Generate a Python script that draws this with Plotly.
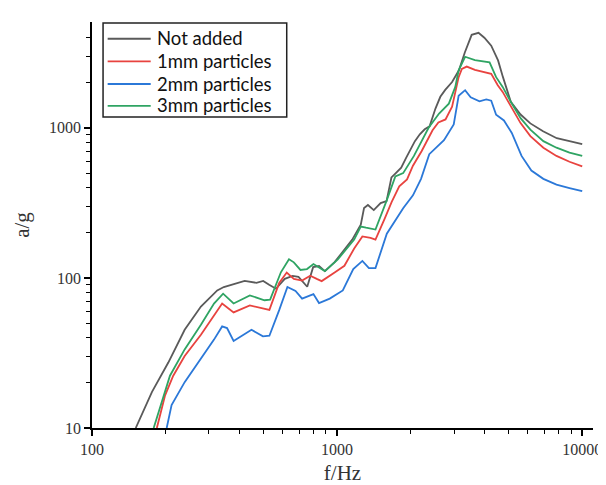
import plotly.graph_objects as go

# ---- data (f in Hz, a in g) ----
f_not_added = [150.8, 175.7, 204.8, 238.8, 278.2, 324.3, 344.9, 382.6, 419.5, 468.6, 499.5, 528, 563,
               611.7, 658.3, 695.7, 755.3, 798.3, 843.7, 891.6, 977, 1153, 1249, 1288, 1336, 1411, 1505,
               1591, 1666, 1728, 1826, 1912, 2077, 2175, 2277, 2384, 2519, 2637, 2761, 2945, 3141, 3319,
               3540, 3775, 3988, 4254, 4536, 4750, 5112, 5604, 6143, 6923, 7874, 8874, 10000]
a_not_added = [10, 17.4, 27.3, 45.1, 64.5, 82.6, 86.9, 91.4, 95.5, 92.7, 95.5, 90, 84.7,
               98.5, 103, 101.5, 87.3, 118, 120, 111, 127.3, 180, 226, 292, 306, 283, 315,
               325, 467, 496, 542, 631, 815, 906, 977, 1023, 1343, 1609, 1789, 2018, 2418, 3175,
               4166, 4293, 3981, 3528, 2813, 2176, 1492, 1226, 1070, 948, 853, 815, 780]

f_1mm = [183.9, 198.7, 214.5, 238.8, 278.2, 314.6, 339.6, 378.2, 440.5, 529.4, 580.3, 622.9, 666,
         719.7, 776.7, 826, 864.9, 977, 1071, 1174, 1268, 1369, 1434, 1562, 1670, 1793, 1929, 2039,
         2214, 2451, 2589, 2769, 2945, 3132, 3228, 3380, 3649, 4254, 4523, 4736, 5112, 5604, 6143,
         6942, 7852, 8874, 10000]
a_1mm = [10, 16.5, 22.3, 30.2, 41.8, 56.6, 67.5, 58.9, 65.5, 61.2, 92.7, 108.7, 98.5,
         96, 103.5, 98.5, 95.2, 108.7, 120.4, 157, 189, 185, 180, 247, 321, 407, 453, 559,
         701, 963, 1087, 1137, 1384, 2176, 2466, 2558, 2430, 2288, 1920, 1735, 1384, 1075, 880,
         737, 650, 594, 553]

f_2mm = [201.7, 211.2, 238.8, 278.2, 314.6, 339.6, 355.6, 378.2, 447.4, 498.2, 529.4, 580.3, 627,
         676.6, 719.7, 800.6, 843.7, 933.3, 1055, 1164, 1268, 1348, 1434, 1595, 1749, 1860, 2039,
         2200, 2377, 2526, 2729, 2991, 3132, 3328, 3507, 3809, 4062, 4254, 4454, 4793, 5160, 5656,
         6201, 6942, 7852, 8874, 10000]
a_2mm = [10, 14.2, 20.2, 28.7, 38.8, 47.5, 46.3, 38, 45.1, 40.8, 41.2, 61, 86.9,
         81.8, 72.8, 78, 68, 72.8, 82.5, 114.6, 129.8, 116.3, 116.3, 197, 250, 291, 355,
         457, 667, 737, 828, 1054, 1634, 1781, 1597, 1503, 1545, 1515, 1221, 1120, 925, 650,
         519, 457, 418, 397, 379]

f_3mm = [178.5, 192.6, 208, 238.8, 278.2, 314.6, 342.7, 378.2, 440.5, 505.6, 533, 589.6, 636.3,
         666, 708.6, 753.5, 800.6, 891.6, 1007, 1174, 1249, 1312, 1434, 1595, 1728, 1860, 2058,
         2362, 2606, 2857, 3035, 3132, 3328, 3649, 4188, 4454, 4736, 5112, 5604, 6143, 6942, 7852,
         8874, 10000]
a_3mm = [10, 14.9, 22.3, 33.4, 48.7, 67.5, 78.5, 67.5, 76.5, 71, 71.7, 109, 133,
         127, 113, 114.6, 123.6, 111, 133, 180, 220, 216, 210, 330, 474, 499, 650,
         1000, 1245, 1448, 1872, 2418, 2974, 2825, 2730, 2176, 1872, 1492, 1160, 973, 815, 737,
         683, 650]

series_names = ["Not added", "1mm particles", "2mm particles", "3mm particles"]
series_colors = ["#5a5a5a", "#e8433f", "#2b78d8", "#2fa463"]

x_major = [100, 1000, 10000]
x_minor = [200, 300, 400, 500, 600, 700, 800, 900,
           2000, 3000, 4000, 5000, 6000, 7000, 8000, 9000]
y_major = [10, 100, 1000]
y_minor = [20, 30, 40, 50, 60, 70, 80, 90,
           200, 300, 400, 500, 600, 700, 800, 900, 2000, 3000, 4000]

# ---- layout geometry (pixels) ----
W, H = 606, 485
L, R, T, B = 82, 12, 14, 58.5
PW, PH = W - L - R, H - T - B


def px(xp):  # pixel x -> paper x (plot-area relative)
    return (xp - L) / PW


def py(yp):  # pixel y -> paper y
    return (H - B - yp) / PH


fig = go.Figure()
data = [(f_not_added, a_not_added), (f_1mm, a_1mm), (f_2mm, a_2mm), (f_3mm, a_3mm)]
for (fx, ay), name, col in zip(data, series_names, series_colors):
    fig.add_trace(go.Scatter(x=fx, y=ay, mode="lines", name=name,
                             line=dict(color=col, width=1.8)))

# ---- legend drawn as a box with sample lines and text ----
shapes = [dict(type="rect", xref="paper", yref="paper",
               x0=px(93.3), x1=px(281), y0=py(15), y1=py(110.5),
               line=dict(color="#222222", width=1.5), fillcolor="white", layer="above")]
annotations = []
row_y = [31.0, 54.0, 77.0, 99.3]
for name, col, yy in zip(series_names, series_colors, row_y):
    shapes.append(dict(type="line", xref="paper", yref="paper",
                       x0=px(98), x1=px(142), y0=py(yy), y1=py(yy),
                       line=dict(color=col, width=1.8), layer="above"))
    annotations.append(dict(xref="paper", yref="paper", x=px(146.5), y=py(yy - 0.5),
                            xanchor="left", yanchor="middle", showarrow=False,
                            text=name, font=dict(family="Lato", size=18.5, color="#111111")))

tick_font = dict(family="Liberation Serif", size=16, color="#333333")
title_font = dict(family="Liberation Serif", size=21, color="#333333")

fig.update_layout(
    width=W, height=H,
    margin=dict(l=L, r=R, t=T, b=B),
    paper_bgcolor="white", plot_bgcolor="white",
    showlegend=False,
    shapes=shapes, annotations=annotations,
    xaxis=dict(type="log", range=[2, 4.044], showgrid=False, zeroline=False,
               showline=True, linecolor="black", linewidth=1.5,
               ticks="outside", ticklen=6, tickwidth=1.5, tickcolor="black",
               tickmode="array", tickvals=x_major, ticktext=[str(v) for v in x_major],
               tickfont=tick_font,
               minor=dict(tickmode="array", tickvals=x_minor, ticks="outside",
                          ticklen=4, tickwidth=1.2, tickcolor="black", showgrid=False),
               title=dict(text="f/Hz", font=title_font, standoff=8)),
    yaxis=dict(type="log", range=[1, 3.705], showgrid=False, zeroline=False,
               showline=True, linecolor="black", linewidth=1.5,
               ticks="outside", ticklen=6, tickwidth=1.5, tickcolor="black",
               tickmode="array", tickvals=y_major, ticktext=[str(v) for v in y_major],
               tickfont=tick_font,
               minor=dict(tickmode="array", tickvals=y_minor, ticks="outside",
                          ticklen=4, tickwidth=1.2, tickcolor="black", showgrid=False),
               title=dict(text="a/g", font=title_font, standoff=14)),
)

fig.write_html("out.html")
